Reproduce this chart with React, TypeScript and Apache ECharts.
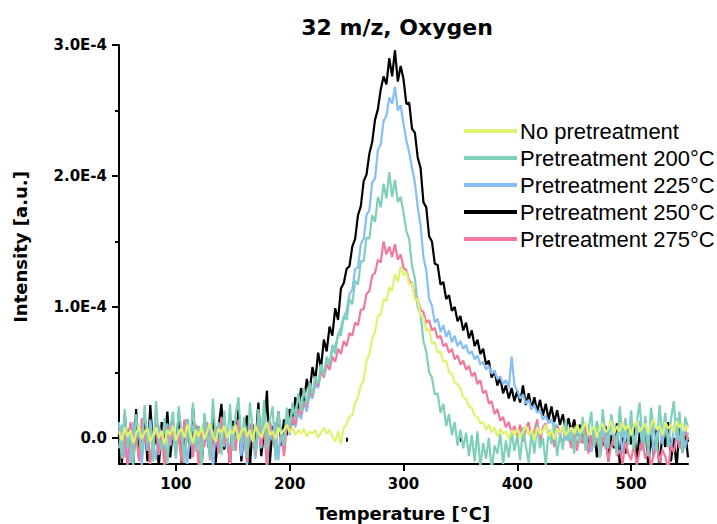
import React, { useEffect, useRef } from "react";
import * as echarts from "echarts";

// Temperature grid (°C), measured every 2.5 °C from 50 to 550
const T_START = 50;
const T_STEP = 2.5;
const temps: number[] = Array.from({ length: 201 }, (_, i) => T_START + i * T_STEP);

// Intensities in units of 1E-4 a.u.
const noPretreatment = [
  0.05,-0.02,0.08,0.01,0.06,-0.04,0.03,0.09,-0.01,0.04,0.07,-0.03,0.02,0.08,0.00,0.05,-0.05,0.06,0.02,0.09,
  -0.02,0.04,0.07,0.00,0.10,0.03,-0.04,0.06,0.01,0.08,-0.01,0.05,0.11,0.02,-0.03,0.07,0.04,0.09,0.00,0.06,
  0.03,0.10,-0.02,0.05,0.08,0.01,0.06,-0.03,0.09,0.04,0.00,0.07,0.12,0.02,0.05,-0.01,0.08,0.03,0.06,0.10,
  0.04,0.08,0.02,0.06,0.03,0.07,0.01,0.05,0.03,0.06,0.00,0.04,0.08,0.03,0.06,0.01,-0.03,0.05,-0.05,0.08,
  0.10,0.16,0.17,0.27,0.31,0.40,0.44,0.59,0.64,0.76,0.81,0.93,0.94,1.06,1.04,1.15,1.12,1.25,1.19,1.31,
  1.24,1.27,1.17,1.18,1.05,1.06,0.93,0.92,0.82,0.83,0.72,0.73,0.65,0.66,0.58,0.59,0.50,0.49,0.42,0.41,
  0.38,0.31,0.30,0.24,0.23,0.17,0.16,0.11,0.12,0.06,0.10,0.04,0.08,0.01,0.07,0.03,0.05,-0.01,0.06,0.02,
  0.07,0.00,0.05,0.09,0.02,0.06,-0.02,0.08,0.03,0.05,0.10,0.01,0.06,-0.01,0.07,0.04,0.09,0.02,0.05,0.08,
  0.03,0.10,0.04,0.07,0.12,0.02,0.06,0.09,0.00,0.08,0.11,0.04,0.07,0.13,0.03,0.09,0.05,0.12,0.06,0.10,
  0.02,0.09,0.13,0.05,0.08,0.11,0.03,0.10,0.14,0.06,0.09,0.02,0.12,0.07,0.10,0.04,0.13,0.08,0.11,0.05,
  0.09,
];

const pre200 = [
  0.12,-0.15,0.22,-0.08,0.05,-0.22,0.18,0.02,-0.12,0.25,-0.05,0.10,-0.18,0.28,0.00,-0.10,0.15,-0.20,0.08,0.20,
  -0.14,0.24,0.03,-0.19,0.14,-0.06,0.27,-0.11,0.09,-0.23,0.19,0.04,-0.16,0.30,-0.02,0.12,-0.13,0.21,-0.07,0.26,
  -0.10,0.18,0.31,-0.04,0.16,-0.15,0.27,0.06,-0.12,0.22,0.01,0.29,-0.09,0.14,0.24,-0.17,0.20,0.05,-0.06,0.23,
  0.08,0.27,0.14,0.34,0.20,0.38,0.25,0.42,0.33,0.47,0.41,0.56,0.48,0.62,0.56,0.71,0.64,0.80,0.78,0.93,
  0.90,1.06,1.02,1.20,1.17,1.35,1.35,1.53,1.52,1.70,1.65,1.84,1.76,1.94,1.83,2.03,1.84,1.97,1.80,1.84,
  1.72,1.58,1.52,1.31,1.22,1.00,0.94,0.74,0.66,0.50,0.46,0.33,0.34,0.19,0.26,0.09,0.18,0.02,0.12,-0.06,
  0.06,-0.08,0.04,-0.14,0.02,-0.18,0.05,-0.22,-0.04,-0.16,0.00,-0.25,-0.06,-0.12,0.03,-0.20,-0.02,-0.15,0.05,-0.10,
  0.02,-0.17,0.08,-0.06,-0.19,0.04,-0.12,0.10,-0.08,0.00,-0.21,0.06,-0.05,0.12,-0.14,0.03,-0.09,0.14,-0.03,0.08,
  -0.12,0.10,-0.04,0.16,-0.10,0.06,0.20,-0.07,0.13,-0.15,0.22,0.02,-0.08,0.18,0.05,-0.13,0.24,0.00,0.15,-0.06,
  0.21,-0.09,0.12,0.27,-0.04,0.17,-0.14,0.23,0.06,-0.11,0.25,0.01,0.19,-0.07,0.14,0.28,-0.02,0.20,-0.12,0.16,
  0.08,
];

const pre225 = [
  -0.08,0.10,-0.15,0.04,-0.19,0.12,-0.02,0.08,-0.21,0.06,-0.10,0.14,-0.05,-0.17,0.09,0.01,-0.12,0.11,-0.06,0.05,
  -0.16,0.07,-0.03,0.13,-0.20,0.02,0.10,-0.09,0.05,-0.18,0.12,-0.04,0.08,-0.22,0.03,-0.11,0.15,-0.07,0.06,-0.19,
  0.09,-0.05,0.13,-0.14,0.04,-0.21,0.11,0.00,-0.16,0.08,-0.08,0.14,-0.23,0.05,-0.02,0.12,-0.17,0.07,-0.10,0.15,
  0.02,0.16,0.08,0.20,0.14,0.27,0.20,0.33,0.30,0.41,0.38,0.50,0.47,0.58,0.56,0.67,0.70,0.78,0.84,0.92,
  0.97,1.10,1.13,1.29,1.30,1.48,1.52,1.70,1.74,1.95,1.98,2.20,2.24,2.42,2.46,2.60,2.55,2.68,2.50,2.54,
  2.40,2.27,2.18,2.06,1.95,1.76,1.62,1.38,1.28,1.06,1.01,0.88,0.91,0.81,0.86,0.77,0.82,0.73,0.78,0.70,
  0.74,0.68,0.71,0.64,0.66,0.60,0.63,0.56,0.58,0.52,0.55,0.49,0.51,0.45,0.47,0.41,0.44,0.38,0.62,0.40,
  0.36,0.30,0.33,0.26,0.29,0.22,0.25,0.19,0.21,0.14,0.17,0.11,0.14,0.07,0.10,0.03,0.08,-0.02,0.05,-0.04,
  0.06,-0.08,0.03,0.10,-0.05,0.07,-0.11,0.04,0.12,-0.03,0.08,-0.09,0.05,0.14,-0.06,0.02,0.09,-0.12,0.06,0.00,
  0.10,-0.07,0.04,0.13,-0.10,0.06,-0.02,0.11,-0.14,0.03,0.08,-0.05,0.12,0.00,-0.09,0.07,0.15,-0.03,0.05,-0.08,
  0.04,
];

const pre250 = [
  0.06,-0.20,0.18,-0.05,0.10,-0.24,0.22,-0.12,0.04,0.15,-0.18,0.25,-0.08,0.02,-0.22,0.12,-0.03,0.20,-0.15,0.07,
  -0.10,0.19,-0.22,0.05,0.14,-0.16,0.23,-0.06,0.09,-0.25,0.16,0.00,-0.13,0.21,-0.19,0.08,0.26,-0.09,0.03,-0.21,
  0.13,-0.07,0.22,-0.18,0.06,0.17,-0.23,0.10,-0.04,0.27,-0.14,0.05,0.36,-0.20,0.09,-0.11,0.20,-0.06,0.14,0.02,
  0.22,0.10,0.31,0.21,0.38,0.27,0.45,0.35,0.54,0.44,0.65,0.53,0.75,0.66,0.85,0.78,0.99,0.90,1.14,1.18,
  1.29,1.31,1.46,1.52,1.70,1.77,1.96,2.01,2.17,2.26,2.43,2.51,2.66,2.76,2.70,2.90,2.76,2.96,2.72,2.84,
  2.74,2.55,2.56,2.36,2.33,2.14,2.06,1.80,1.76,1.54,1.50,1.33,1.32,1.17,1.19,1.06,1.09,0.97,1.00,0.89,
  0.93,0.82,0.88,0.76,0.82,0.70,0.75,0.64,0.68,0.56,0.59,0.46,0.51,0.40,0.46,0.34,0.40,0.30,0.38,0.28,
  0.36,0.27,0.40,0.25,0.34,0.22,0.31,0.20,0.29,0.17,0.26,0.14,0.24,0.12,0.21,0.10,0.18,0.06,0.15,0.04,
  0.14,0.02,0.10,-0.04,0.08,0.00,-0.10,0.06,-0.15,0.04,-0.06,0.09,-0.18,0.02,-0.08,0.11,-0.20,0.03,-0.12,0.07,
  -0.05,0.10,-0.19,0.04,-0.09,0.13,-0.22,0.02,-0.14,0.08,-0.25,0.05,-0.07,0.12,-0.18,0.00,-0.23,0.09,-0.11,0.06,
  -0.15,
];

const pre275 = [
  0.10,-0.16,0.05,-0.22,0.12,-0.08,0.03,-0.18,0.15,-0.04,0.08,-0.20,0.02,0.11,-0.13,0.06,-0.24,0.09,-0.06,0.13,
  -0.11,0.04,-0.19,0.14,-0.02,0.07,-0.15,0.10,-0.23,0.05,-0.07,0.12,-0.17,0.01,0.09,-0.12,0.16,-0.05,0.03,-0.20,
  0.08,-0.10,0.14,-0.03,0.06,-0.18,0.11,0.00,-0.13,0.17,-0.06,0.09,-0.21,0.13,0.02,-0.09,0.18,0.04,-0.14,0.10,
  0.05,0.16,0.10,0.22,0.18,0.28,0.24,0.36,0.32,0.44,0.40,0.52,0.46,0.56,0.52,0.62,0.58,0.68,0.64,0.74,
  0.70,0.80,0.78,0.88,0.86,0.98,0.98,1.10,1.12,1.24,1.26,1.36,1.34,1.50,1.40,1.46,1.38,1.48,1.36,1.40,
  1.30,1.28,1.20,1.18,1.08,1.06,0.98,0.96,0.88,0.90,0.82,0.84,0.76,0.78,0.70,0.72,0.65,0.68,0.60,0.63,
  0.56,0.59,0.52,0.55,0.47,0.50,0.41,0.44,0.34,0.36,0.26,0.28,0.18,0.22,0.13,0.16,0.08,0.12,0.04,0.09,
  0.02,0.10,-0.03,0.07,0.12,-0.02,0.05,0.14,-0.04,0.08,0.11,0.00,0.06,-0.07,0.09,0.03,-0.05,0.07,0.01,-0.08,
  0.04,-0.10,0.06,-0.04,0.10,-0.12,0.02,-0.07,0.05,-0.15,-0.02,0.03,-0.18,-0.06,0.01,-0.14,-0.09,-0.20,-0.03,-0.12,
  -0.17,-0.05,-0.21,-0.10,-0.02,-0.16,-0.08,-0.22,-0.12,-0.04,-0.19,-0.09,-0.14,-0.25,-0.06,-0.11,0.02,-0.08,-0.03,0.05,
  -0.02,
];

const xMajorTicks = [100, 200, 300, 400, 500];
const xMinorTicks = [50, 150, 250, 350, 450, 550];
const yMajorTicks = [0, 1, 2, 3];
const yMinorTicks = [0.5, 1.5, 2.5];

const seriesNames = [
  "No pretreatment",
  "Pretreatment 200°C",
  "Pretreatment 225°C",
  "Pretreatment 250°C",
  "Pretreatment 275°C",
];
const seriesColors = ["#e0f271", "#7fcfba", "#86bef6", "#000000", "#f2799b"];
const seriesValues = [noPretreatment, pre200, pre225, pre250, pre275];
// drawing order (first drawn = bottom)
const drawOrder = [3, 2, 4, 1, 0];

const BOLD = '"DejaVu Sans", sans-serif';

export default function App() {
  const ref = useRef<HTMLDivElement>(null);

  useEffect(() => {
    if (!ref.current) return;
    const chart = echarts.init(ref.current, null, { renderer: "svg" });

    const series = drawOrder.map((idx) => ({
      name: seriesNames[idx],
      type: "line",
      xAxisIndex: 0,
      yAxisIndex: 0,
      data: temps.map((t, i) => [t, seriesValues[idx][i]]),
      symbol: "none",
      showSymbol: false,
      lineStyle: { color: seriesColors[idx], width: 2.2 },
      itemStyle: { color: seriesColors[idx] },
      clip: true,
    }));

    const option: any = {
      animation: false,
      backgroundColor: "#ffffff",
      grid: { left: 119, top: 45, width: 569, height: 419 },
      legend: {
        data: seriesNames,
        orient: "vertical",
        left: 464,
        top: 120,
        padding: 0,
        itemGap: 5,
        itemWidth: 53,
        itemHeight: 4,
        icon: "rect",
        textStyle: {
          fontFamily: '"Liberation Sans", Arial, sans-serif',
          fontSize: 22,
          lineHeight: 22,
          color: "#000",
          padding: [0, 0, 0, -2],
        },
        selectedMode: false,
      },
      xAxis: [
        {
          type: "value",
          min: 50,
          max: 550,
          position: "bottom",
          axisLine: { show: true, onZero: false, lineStyle: { color: "#000", width: 2 } },
          axisTick: {
            show: true,
            customValues: xMajorTicks,
            length: 7,
            lineStyle: { color: "#000", width: 2 },
          },
          axisLabel: {
            customValues: xMajorTicks,
            margin: 12,
            fontFamily: BOLD,
            fontWeight: "bold",
            fontSize: 15,
            color: "#000",
          },
          splitLine: { show: false },
        },
        {
          type: "value",
          min: 50,
          max: 550,
          position: "bottom",
          axisLine: { show: false },
          axisTick: {
            show: true,
            customValues: xMinorTicks,
            length: 4,
            lineStyle: { color: "#000", width: 2 },
          },
          axisLabel: { show: false },
          splitLine: { show: false },
        },
      ],
      yAxis: [
        {
          type: "value",
          min: -0.2,
          max: 3.0,
          position: "left",
          axisLine: { show: true, onZero: false, lineStyle: { color: "#000", width: 2 } },
          axisTick: {
            show: true,
            customValues: yMajorTicks,
            length: 7,
            lineStyle: { color: "#000", width: 2 },
          },
          axisLabel: {
            customValues: yMajorTicks,
            margin: 12,
            fontFamily: BOLD,
            fontWeight: "bold",
            fontSize: 15,
            color: "#000",
            formatter: (v: number) => (v === 0 ? "0.0" : v.toFixed(1) + "E-4"),
          },
          splitLine: { show: false },
        },
        {
          type: "value",
          min: -0.2,
          max: 3.0,
          position: "left",
          axisLine: { show: false },
          axisTick: {
            show: true,
            customValues: yMinorTicks,
            length: 4,
            lineStyle: { color: "#000", width: 2 },
          },
          axisLabel: { show: false },
          splitLine: { show: false },
        },
      ],
      graphic: [
        {
          type: "text",
          x: 397,
          y: 27,
          style: {
            text: "32 m/z, Oxygen",
            font: `bold 22px ${BOLD}`,
            fill: "#000",
            textAlign: "center",
            textVerticalAlign: "middle",
          },
        },
        {
          type: "text",
          x: 403,
          y: 513,
          style: {
            text: "Temperature [°C]",
            font: `bold 18px ${BOLD}`,
            fill: "#000",
            textAlign: "center",
            textVerticalAlign: "middle",
          },
        },
        {
          type: "text",
          x: 20,
          y: 247,
          rotation: Math.PI / 2,
          style: {
            text: "Intensity [a.u.]",
            font: `bold 18px ${BOLD}`,
            fill: "#000",
            textAlign: "center",
            textVerticalAlign: "middle",
          },
        },
      ],
      series,
    };

    chart.setOption(option);
    return () => chart.dispose();
  }, []);

  return (
    <div
      ref={ref}
      style={{ position: "fixed", left: 0, top: 0, width: 717, height: 524, background: "#fff" }}
    />
  );
}
